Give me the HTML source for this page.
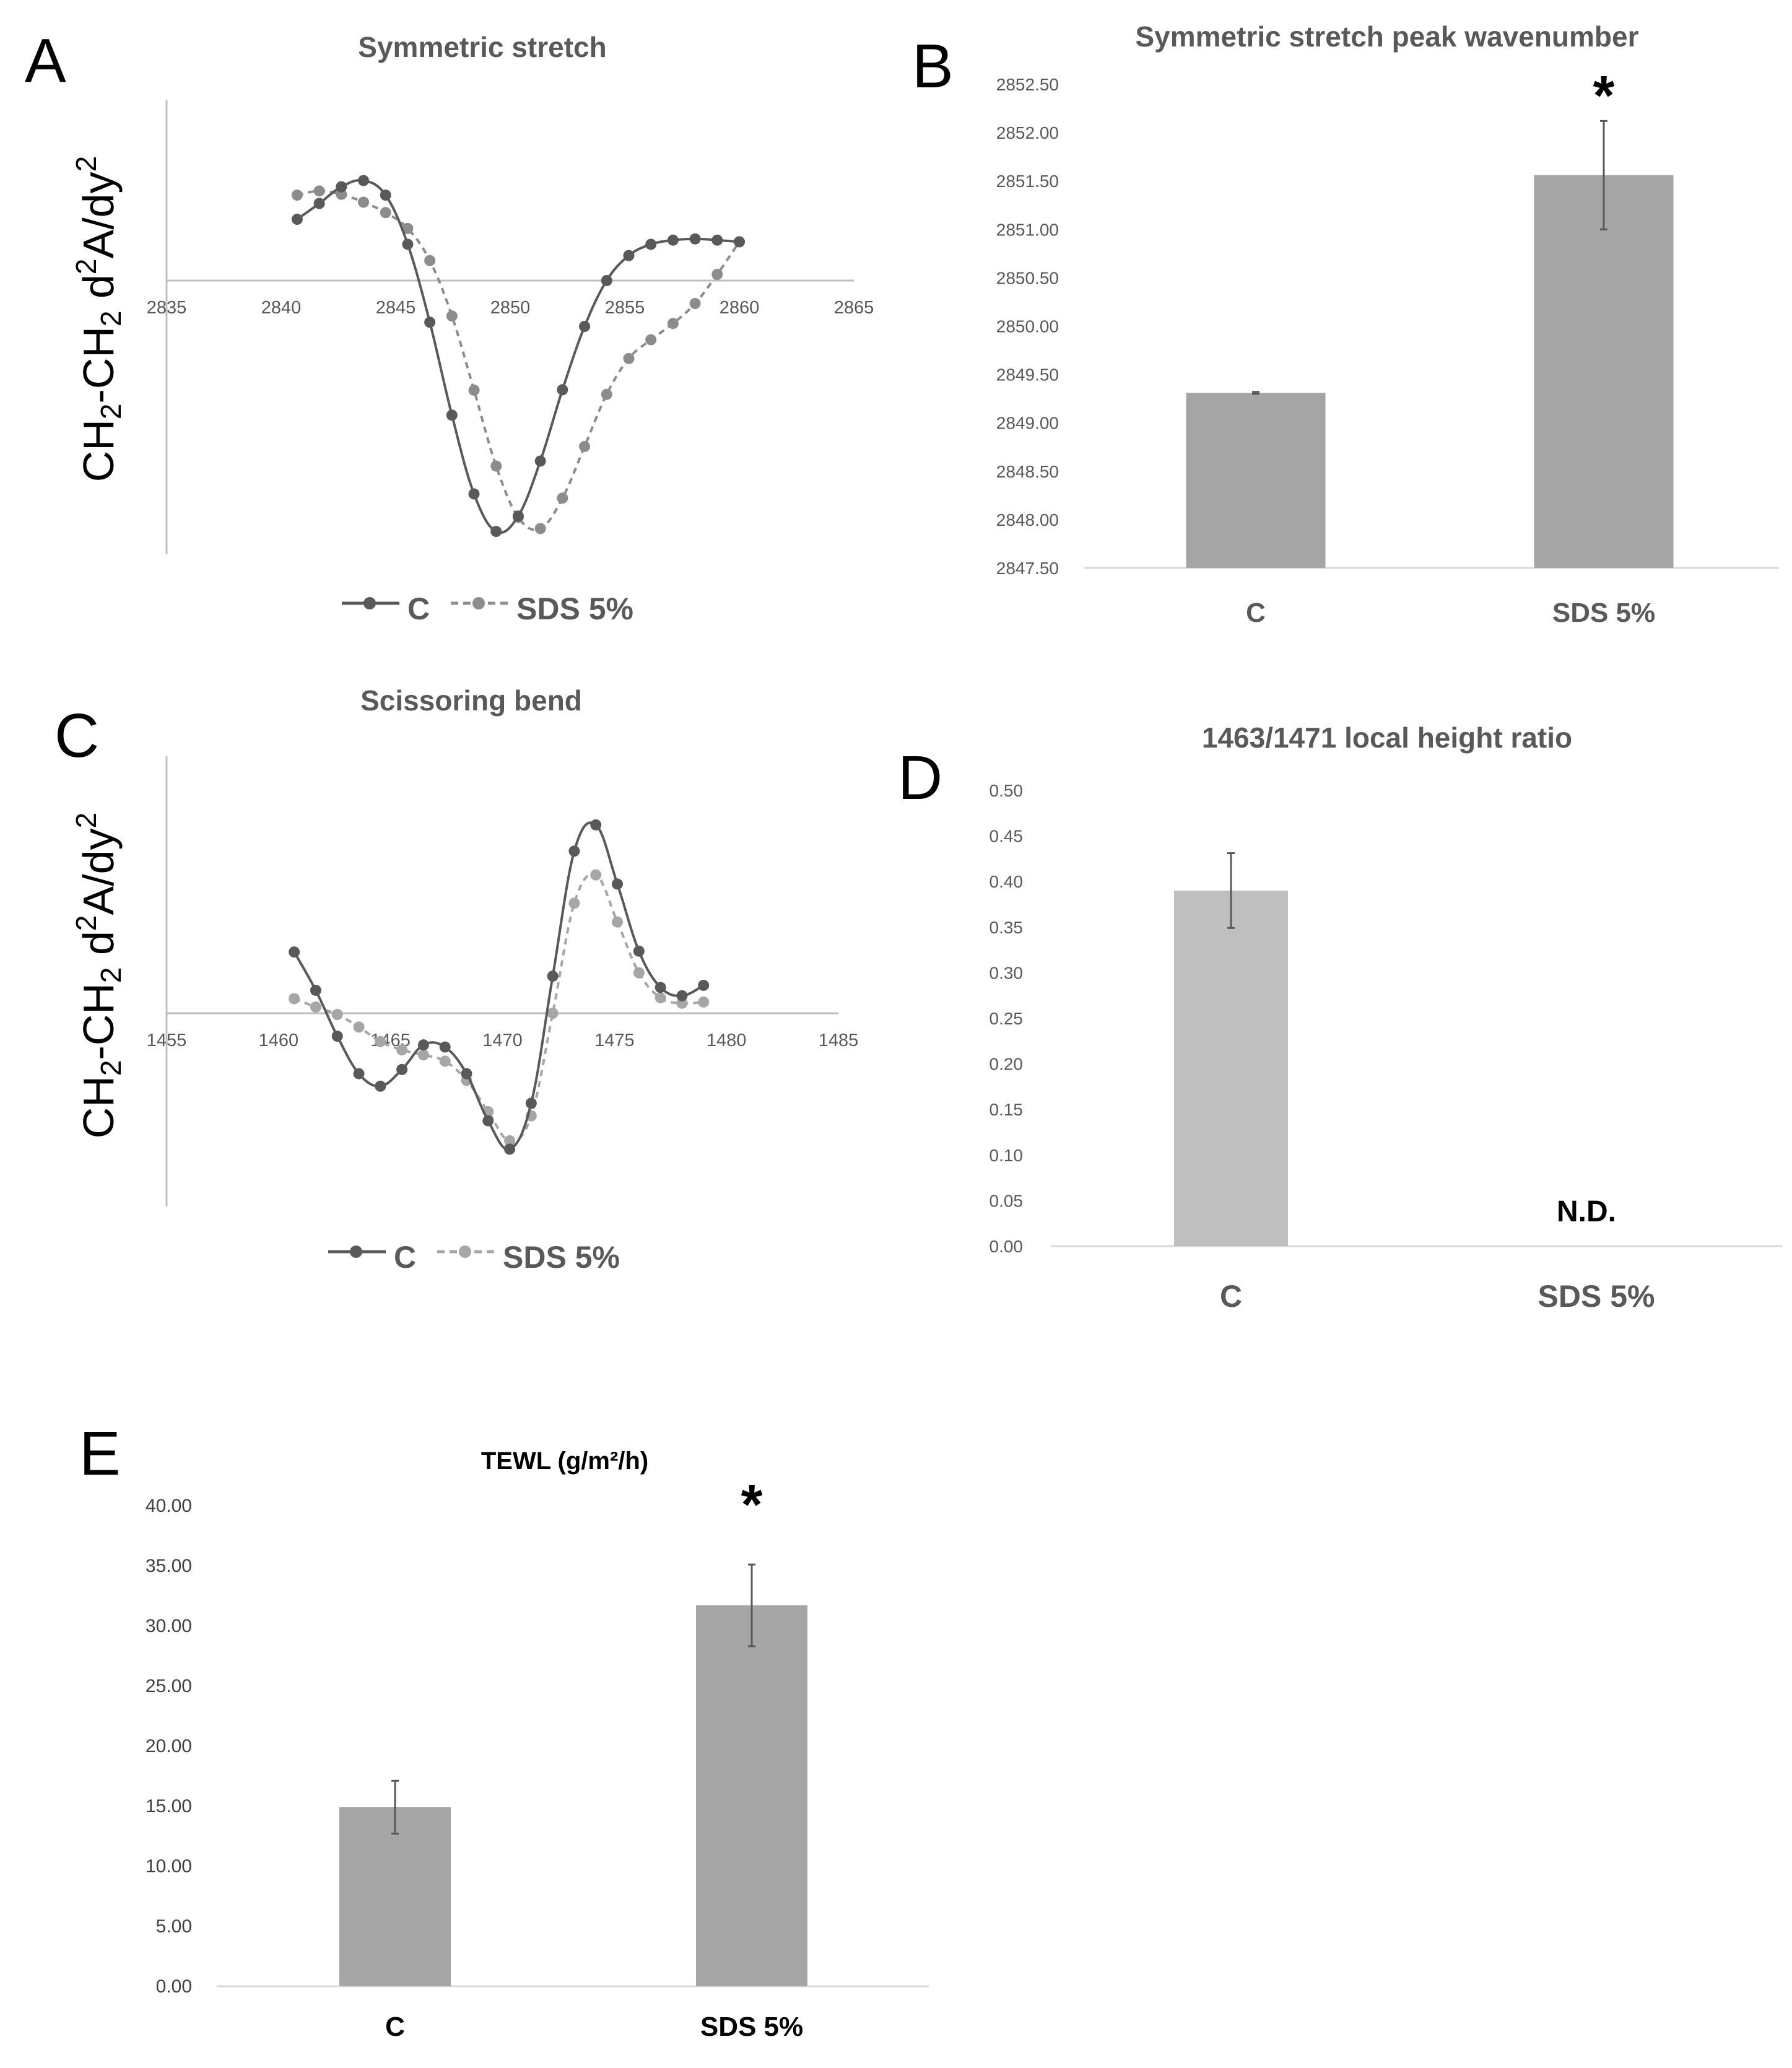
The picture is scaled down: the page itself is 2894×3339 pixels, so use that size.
<!DOCTYPE html>
<html><head><meta charset="utf-8">
<style>
html,body{margin:0;padding:0;background:#fff;}
svg{display:block;}
text{font-family:"Liberation Sans",sans-serif;}
</style></head>
<body>
<svg id="fig" width="2894" height="3339" viewBox="0 0 2894 3339" xmlns="http://www.w3.org/2000/svg">
<rect x="0" y="0" width="2894" height="3339" fill="#fff"/>
</svg>
<script>
// ---------- Data ----------
const aX0 = 2840.7, aStep = 0.965;
const aC   = [147,185,225,240,205,87,-100,-323,-512,-602,-565,-433,-262,-110,0,60,87,97,100,97,93];
const aSDS = [205,215,207,188,163,125,48,-85,-263,-445,-568,-595,-522,-398,-273,-187,-142,-103,-55,15,93];
const aTicks = [2835,2840,2845,2850,2855,2860,2865];
const cX0 = 1460.7, cStep = 0.962;
const cC   = [147,55,-55,-145,-175,-135,-76,-81,-145,-258,-326,-216,89,389,452,310,149,62,42,67];
const cSDS = [35,15,-3,-33,-68,-88,-100,-115,-161,-236,-306,-246,0,264,332,219,97,37,24,27];
const cTicks = [1455,1460,1465,1470,1475,1480,1485];
const categories = ["C","SDS 5%"];
const bVals = [2849.31, 2851.56];
const bErr  = [0.01, 0.56];
const bTicks = [2847.5,2848,2848.5,2849,2849.5,2850,2850.5,2851,2851.5,2852,2852.5];
const dVals = [0.39, null];
const dErr  = [0.041, null];
const dTicks = [0,0.05,0.1,0.15,0.2,0.25,0.3,0.35,0.4,0.45,0.5];
const eVals = [14.9, 31.7];
const eErr  = [2.2, 3.4];
const eTicks = [0,5,10,15,20,25,30,35,40];

const NS = "http://www.w3.org/2000/svg";
const svg = document.getElementById('fig');
function el(tag, attrs, parent){
  const e = document.createElementNS(NS, tag);
  for (const k in attrs) e.setAttribute(k, attrs[k]);
  (parent||svg).appendChild(e);
  return e;
}
function txt(str, attrs, parent){ const t = el('text', attrs, parent); t.textContent = str; return t; }

function smooth(pts){
  let d = "M"+pts[0][0]+","+pts[0][1];
  for (let i=0;i<pts.length-1;i++){
    const p0=pts[Math.max(0,i-1)], p1=pts[i], p2=pts[i+1], p3=pts[Math.min(pts.length-1,i+2)];
    const t=0.18;
    const c1=[p1[0]+(p2[0]-p0[0])*t, p1[1]+(p2[1]-p0[1])*t];
    const c2=[p2[0]-(p3[0]-p1[0])*t, p2[1]-(p3[1]-p1[1])*t];
    d+=" C"+c1[0]+","+c1[1]+" "+c2[0]+","+c2[1]+" "+p2[0]+","+p2[1];
  }
  return d;
}

function linePanel(cfg){
  const g = el('g', {});
  
  
  const xS = v => cfg.xL + (v - cfg.t0)/(cfg.t1 - cfg.t0)*(cfg.xR - cfg.xL);
  const yS = v => cfg.zeroY - v*cfg.k;
  const L = txt(cfg.letter, {x:cfg.letX, y:cfg.letY, 'font-size':100, fill:'#000'}, g);
   
  const T = txt(cfg.title, {x:cfg.titleX, y:cfg.titleY, 'font-size':46, 'font-weight':'bold', fill:'#595959', 'text-anchor':'middle'}, g);
   
  const va = el('line', {x1:cfg.xL, x2:cfg.xL, y1:cfg.vTop, y2:cfg.vBot, stroke:'#bfbfbf', 'stroke-width':3}, g);
   
  const ha = el('line', {x1:cfg.xL, x2:cfg.xR, y1:cfg.zeroY, y2:cfg.zeroY, stroke:'#bfbfbf', 'stroke-width':3}, g);
   
  cfg.ticks.forEach(t=>{
    const tl = txt(String(t), {x:xS(t), y:cfg.zeroY+53, 'font-size':29, fill:'#595959', 'text-anchor':'middle'}, g);
     
  });
  const yt = el('text', {transform:`translate(${cfg.ytX},${cfg.ytY}) rotate(-90)`, 'font-size':70, fill:'#000', 'text-anchor':'middle'}, g);
   
  yt.innerHTML = 'CH<tspan font-size="46" dy="12">2</tspan><tspan dy="-12">-CH</tspan><tspan font-size="46" dy="12">2</tspan><tspan dy="-12"> d</tspan><tspan font-size="46" dy="-28">2</tspan><tspan dy="28">A/dy</tspan><tspan font-size="46" dy="-28">2</tspan>';
  const series = [
    {vals:cfg.sds, color:cfg.sdsColor, dash:'10,8', name:'series-sds'},
    {vals:cfg.c, color:'#595959', dash:null, name:'series-c'}
  ];
  series.forEach(s=>{
    const sg = el('g', {}, g);
    
    
    const pts = s.vals.map((v,i)=>[xS(cfg.x0 + i*cfg.step), yS(v)]);
    const a = {d:smooth(pts), fill:'none', stroke:s.color, 'stroke-width':4};
    if (s.dash) a['stroke-dasharray']=s.dash;
    const p = el('path', a, sg);
     
    pts.forEach(pt=>{
      const c = el('circle', {cx:pt[0], cy:pt[1], r:9, fill:s.color}, sg);
       
    });
  });
  const lg = el('g', {}, g);
   
  const ly = cfg.legY, lx = cfg.legX;
  el('line', {x1:lx, x2:lx+93, y1:ly, y2:ly, stroke:'#595959', 'stroke-width':5}, lg);
  el('circle', {cx:lx+45, cy:ly, r:10, fill:'#595959'}, lg);
  const l1 = txt('C', {x:lx+106, y:ly+26, 'font-size':50, 'font-weight':'bold', fill:'#595959'}, lg);
   
  el('line', {x1:lx+176, x2:lx+271, y1:ly, y2:ly, stroke:cfg.sdsColor, 'stroke-width':5, 'stroke-dasharray':'12,8'}, lg);
  el('circle', {cx:lx+221, cy:ly, r:10, fill:cfg.sdsColor}, lg);
  const l2 = txt('SDS 5%', {x:lx+282, y:ly+26, 'font-size':50, 'font-weight':'bold', fill:'#595959'}, lg);
   
}

linePanel({name:'panel-a-symmetric-stretch', letter:'A', letX:40, letY:132, title:'Symmetric stretch', titleX:779, titleY:92,
  xL:269, xR:1379, t0:2835, t1:2865, zeroY:453, k:1/1.486, vTop:162, vBot:895,
  ticks:aTicks, x0:aX0, step:aStep, c:aC, sds:aSDS, sdsColor:'#8c8c8c',
  ytX:183, ytY:515, legX:552, legY:974});
linePanel({name:'panel-c-scissoring-bend', letter:'C', letX:88, letY:1222, title:'Scissoring bend', titleX:761, titleY:1147,
  xL:269, xR:1354, t0:1455, t1:1485, zeroY:1636, k:1/1.486, vTop:1221, vBot:1948,
  ticks:cTicks, x0:cX0, step:cStep, c:cC, sds:cSDS, sdsColor:'#a6a6a6',
  ytX:183, ytY:1575, legX:530, legY:2021});

function barPanel(cfg){
  const g = el('g', {});
  
  
  const yS = v => cfg.yBot - (v - cfg.vMin)/(cfg.vMax - cfg.vMin)*(cfg.yBot - cfg.yTop);
  const L = txt(cfg.letter, {x:cfg.letX, y:cfg.letY, 'font-size':100, fill:'#000'}, g);
   
  const T = txt(cfg.title, {x:cfg.titleX, y:cfg.titleY, 'font-size':cfg.titleSize, 'font-weight':'bold', fill:cfg.titleColor, 'text-anchor':'middle'}, g);
   
  cfg.ticks.forEach(t=>{
    const tl = txt(t.toFixed(2), {x:cfg.labX, y:yS(t)+10, 'font-size':cfg.tickSize, fill:cfg.tickColor, 'text-anchor':'end'}, g);
     
  });
  const ax = el('line', {x1:cfg.axL, x2:cfg.axR, y1:cfg.yBot, y2:cfg.yBot, stroke:'#d9d9d9', 'stroke-width':3}, g);
   
  cfg.vals.forEach((v,i)=>{
    const cx = cfg.centers[i];
    if (v !== null){
      const b = el('rect', {x:cx-cfg.bw/2, y:yS(v), width:cfg.bw, height:cfg.yBot-yS(v), fill:cfg.barColor}, g);
      
      
      const e = cfg.err[i];
      const eg = el('g', {stroke:'#595959', 'stroke-width':3}, g);
      
      
      el('line', {x1:cx, x2:cx, y1:yS(v+e), y2:yS(v-e)}, eg);
      el('line', {x1:cx-6, x2:cx+6, y1:yS(v+e), y2:yS(v+e)}, eg);
      el('line', {x1:cx-6, x2:cx+6, y1:yS(v-e), y2:yS(v-e)}, eg);
    }
    const cl = txt(categories[i], {x:cx, y:cfg.catY, 'font-size':cfg.catSize, 'font-weight':'bold', fill:cfg.catColor, 'text-anchor':'middle'}, g);
     
  });
  if (cfg.star){
    const s = txt('*', {x:cfg.star[0], y:cfg.star[1], 'font-size':90, 'font-weight':'bold', fill:'#000', 'text-anchor':'middle'}, g);
     
  }
  if (cfg.nd){
    const s = txt('N.D.', {x:cfg.nd[0], y:cfg.nd[1], 'font-size':48, 'font-weight':'bold', fill:'#000', 'text-anchor':'middle'}, g);
     
  }
}

barPanel({name:'panel-b-peak-wavenumber', letter:'B', letX:1473, letY:141, title:'Symmetric stretch peak wavenumber',
  titleX:2240, titleY:75, titleSize:46, titleColor:'#595959',
  yTop:136, yBot:917, vMin:2847.5, vMax:2852.5, ticks:bTicks, labX:1710, tickSize:28, tickColor:'#595959',
  axL:1751, axR:2873, vals:bVals, err:bErr, centers:[2028,2590], bw:225, barColor:'#a5a5a5',
  catY:1004, catSize:44, catColor:'#595959', star:[2590,185]});
barPanel({name:'panel-d-height-ratio', letter:'D', letX:1450, letY:1290, title:'1463/1471 local height ratio',
  titleX:2240, titleY:1207, titleSize:46, titleColor:'#595959',
  yTop:1276, yBot:2012, vMin:0, vMax:0.5, ticks:dTicks, labX:1652, tickSize:28, tickColor:'#595959',
  axL:1697, axR:2878, vals:dVals, err:dErr, centers:[1988,2578], bw:184, barColor:'#bfbfbf',
  catY:2110, catSize:50, catColor:'#595959', nd:[2562,1972]});
barPanel({name:'panel-e-tewl', letter:'E', letX:128, letY:2381, title:'TEWL (g/m²/h)',
  titleX:912, titleY:2372, titleSize:40, titleColor:'#000',
  yTop:2431, yBot:3207, vMin:0, vMax:40, ticks:eTicks, labX:310, tickSize:30, tickColor:'#404040',
  axL:350, axR:1500, vals:eVals, err:eErr, centers:[638,1214], bw:180, barColor:'#a5a5a5',
  catY:3287, catSize:44, catColor:'#000', star:[1214,2460]});
</script>
</body></html>
